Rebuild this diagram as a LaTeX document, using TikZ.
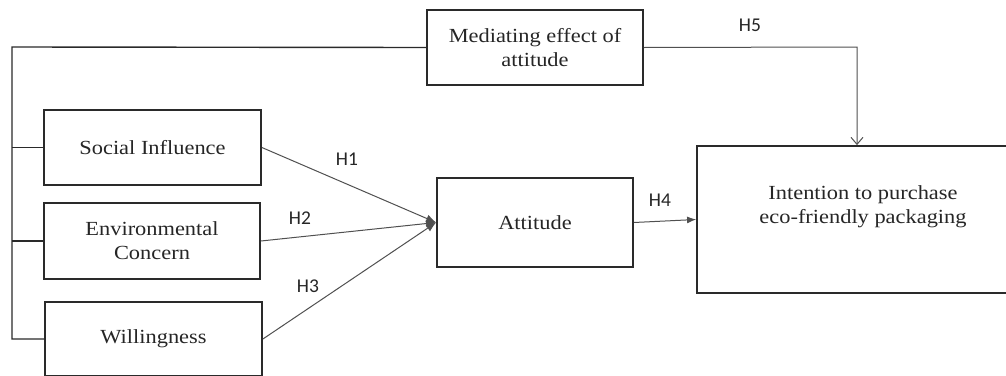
\documentclass[tikz,border=0pt]{standalone}
\usepackage{fontspec}
\setmainfont{Liberation Serif}
\newfontfamily\boxfont[FakeStretch=1.12]{Liberation Serif}
\newfontfamily\hypfont{Carlito}
\usetikzlibrary{arrows.meta}
\definecolor{boxline}{HTML}{2A2A2A}
\definecolor{linkline}{HTML}{505050}
\definecolor{inktext}{HTML}{262626}
\begin{document}
\begin{tikzpicture}[x=1pt,y=-1pt,
  block/.style={draw=boxline, line width=1.8pt, fill=white, inner sep=0pt,
    align=center, text=inktext,
    font=\boxfont\fontsize{20}{24}\selectfont},
  link/.style={draw=linkline, line width=1pt},
  bus/.style={draw=boxline, line width=1.4pt},
  joinarrow/.style={link, -{Latex[length=10pt,width=8pt]}},
  hyp/.style={text=inktext, font=\hypfont\fontsize{19.5}{22}\selectfont, inner sep=0pt}]
\clip (0,0) rectangle (1006,375);
\fill[white] (0,0) rectangle (1006,375);

% construct boxes
\node[block, minimum width=216pt, minimum height=75pt] (med) at (535,47.5)
  {Mediating effect of\\attitude};
\node[block, minimum width=217pt, minimum height=75pt] (si) at (152.5,147.5)
  {Social Influence};
\node[block, minimum width=216pt, minimum height=76pt] (ec) at (152,241)
  {Environmental\\Concern};
\node[block, minimum width=217pt, minimum height=74pt] (wi) at (153.5,339)
  {Willingness};
\node[block, minimum width=196pt, minimum height=89pt] (att) at (535,222.5)
  {Attitude};
\node[block, minimum width=332pt, minimum height=147pt] (int) at (863,219.5)
  {Intention to purchase\\eco-friendly packaging\\[6pt]};

% left-hand bus joining the antecedents to the mediation box
\coordinate (busTop) at (12,47);
\coordinate (busBot) at (12,339);
\draw[bus] (med.west) -- (busTop) -- (busBot) -- (wi.west);
\draw[bus] (si.west) -- (si.west -| busTop);
\draw[bus] (ec.west) -- (ec.west -| busTop);

% hypothesised paths
\draw[joinarrow] (si.east) -- (att.west);
\draw[joinarrow] (ec.east) -- (att.west);
\draw[joinarrow] (wi.east) -- (att.west);
\draw[link, -{Latex[length=9pt,width=7pt]}] (att.east) -- (int.west);
\coordinate (h5turn) at (857,47);
\draw[link, -{Straight Barb[length=7pt,width=12pt]}] (med.east) -- (h5turn) -- (h5turn |- int.north);

% hypothesis labels
\node[hyp] (h1) at (347,159) {H1};
\node[hyp] (h2) at (300,218) {H2};
\node[hyp] (h3) at (308,286) {H3};
\node[hyp] (h4) at (660,200) {H4};
\node[hyp] (h5) at (750,25) {H5};
\end{tikzpicture}
\end{document}
